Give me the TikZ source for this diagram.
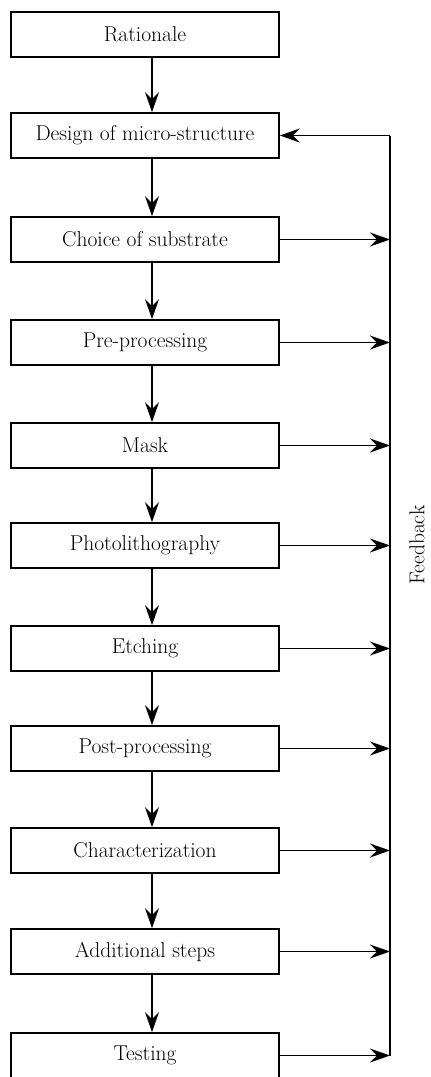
\documentclass[tikz,border=0pt]{standalone}
\usetikzlibrary{arrows.meta}
\begin{document}
\begin{tikzpicture}[x=1pt,y=-1pt,
  stepbox/.style={draw, line width=1.7pt, minimum width=268pt, minimum height=45pt, inner sep=0pt, font=\fontsize{21.5}{24}\selectfont},
  flow/.style={line width=1.6pt, -{Stealth[length=20pt,width=14pt,inset=7pt]}},
  fbline/.style={line width=1.6pt}]
\useasboundingbox (0,0) rectangle (431,1077);
\node[stepbox] (b1) at (145,34.5) {Rationale};
\node[stepbox] (b2) at (145,135.5) {Design of micro-structure};
\node[stepbox] (b3) at (145,239.5) {Choice of substrate};
\node[stepbox] (b4) at (145,342.5) {Pre-processing};
\node[stepbox] (b5) at (145,445.5) {Mask};
\node[stepbox] (b6) at (145,545.5) {Photolithography};
\node[stepbox] (b7) at (145,648.5) {Etching};
\node[stepbox] (b8) at (145,748.5) {Post-processing};
\node[stepbox] (b9) at (145,850.5) {Characterization};
\node[stepbox] (b10) at (145,951.5) {Additional steps};
\node[stepbox] (b11) at (145,1055.5) {Testing};
\foreach \a/\b in {b1/b2,b2/b3,b3/b4,b4/b5,b5/b6,b6/b7,b7/b8,b8/b9,b9/b10,b10/b11}
  \draw[flow] ([xshift=7pt]\a.south) -- ([xshift=7pt]\b.north);
\coordinate (fbtop) at (390,135.5);
\coordinate (fbbot) at (390,1055.5);
\draw[fbline] (fbbot) -- (fbtop);
\draw[flow] (fbtop) -- (b2.east);
\foreach \a in {b3,b4,b5,b6,b7,b8,b9,b10,b11}
  \draw[flow] (\a.east) -- (\a.east -| fbbot);
\node[rotate=90, font=\fontsize{21.5}{24}\selectfont, inner sep=0pt] (fb) at (417,545) {Feedback};
\end{tikzpicture}
\end{document}
